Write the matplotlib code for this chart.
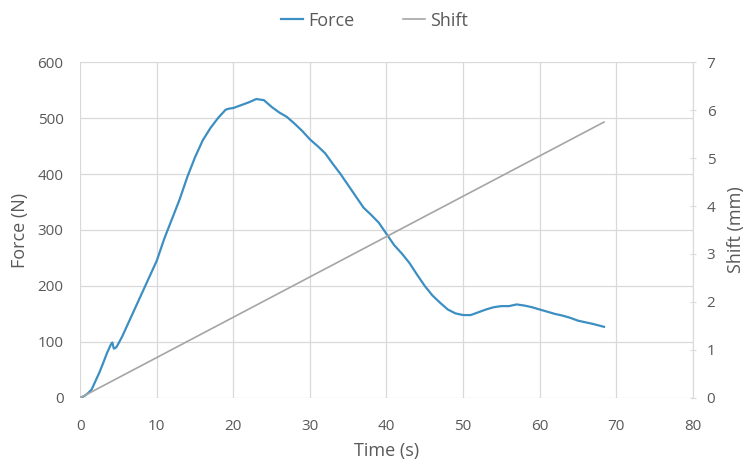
import matplotlib.pyplot as plt
import numpy as np

plt.rcParams["font.family"] = ["Open Sans", "DejaVu Sans"]

# 力-时间曲线
force_t = [0, 0.5, 1.0, 1.5, 2.0, 2.5, 3.0, 3.5, 4.0, 4.2, 4.4, 4.7, 5.0, 5.5, 6.0,
           7.0, 8.0, 9.0, 10.0, 11.0, 12.0, 13.0, 14.0, 15.0, 16.0, 17.0, 18.0,
           19.0, 19.5, 20.0, 21.0, 22.0, 23.0, 24.0, 25.0, 26.0, 27.0, 28.0, 29.0,
           30.0, 31.0, 32.0, 33.0, 34.0, 35.0, 36.0, 37.0, 38.0, 39.0, 40.0, 41.0,
           42.0, 43.0, 44.0, 45.0, 46.0, 47.0, 48.0, 49.0, 50.0, 51.0, 52.0, 53.0,
           54.0, 55.0, 56.0, 57.0, 58.0, 59.0, 60.0, 61.0, 62.0, 63.0, 64.0, 65.0,
           66.0, 67.0, 68.4]
force_n = [0, 3, 8, 15, 30, 45, 62, 80, 95, 99, 88, 90, 97, 110, 125,
           155, 185, 215, 245, 285, 320, 355, 395, 430, 460, 482, 500,
           515, 517, 518, 523, 528, 534, 532, 520, 510, 502, 490, 477,
           462, 450, 437, 418, 400, 380, 360, 340, 327, 313, 293, 273,
           258, 241, 220, 200, 183, 170, 158, 151, 148, 148, 153, 158,
           162, 164, 164, 167, 165, 162, 158, 154, 150, 147, 143, 138,
           135, 132, 127]

# 位移-时间（直线）
shift_t = [0, 68.4]
shift_mm = [0, 5.75]

txt = "#595959"
grid_c = "#d9d9d9"

fig = plt.figure(figsize=(7.49, 4.67), dpi=100)
ax = fig.add_axes([0.107, 0.148, 0.818, 0.719])
ax2 = ax.twinx()

l1, = ax.plot(force_t, force_n, color="#3d8fc2", lw=1.6, label="Force")
l2, = ax2.plot(shift_t, shift_mm, color="#a5a5a5", lw=1.2, label="Shift")

ax.set_xlim(0, 80)
ax.set_ylim(0, 600)
ax2.set_ylim(0, 7)
ax.set_xticks(np.arange(0, 81, 10))
ax.set_yticks(np.arange(0, 601, 100))
ax2.set_yticks(np.arange(0, 8, 1))

ax.grid(True, color=grid_c, lw=0.9)
ax.set_axisbelow(True)
for a in (ax, ax2):
    for s in a.spines.values():
        s.set_visible(False)
ax2.spines["right"].set_visible(True)
ax2.spines["right"].set_color(grid_c)

ax.tick_params(axis="x", length=0, labelsize=11, labelcolor=txt, pad=15)
ax.tick_params(axis="y", length=0, labelsize=11, labelcolor=txt, pad=12)
ax2.tick_params(axis="y", length=4, direction="inout", color=grid_c,
                labelsize=11, labelcolor=txt, pad=8)

ax.set_xlabel("Time (s)", fontsize=13, color=txt, labelpad=6)
ax.set_ylabel("Force (N)", fontsize=13, color=txt, labelpad=6)
ax2.set_ylabel("Shift (mm)", fontsize=13, color=txt, labelpad=8)

fig.legend(handles=[l1, l2], loc="upper center", bbox_to_anchor=(0.5, 1.01),
           ncol=2, frameon=False, fontsize=13, labelcolor=txt,
           handlelength=1.2, handletextpad=0.3, columnspacing=2.7)

plt.savefig("out.png", dpi=100)
